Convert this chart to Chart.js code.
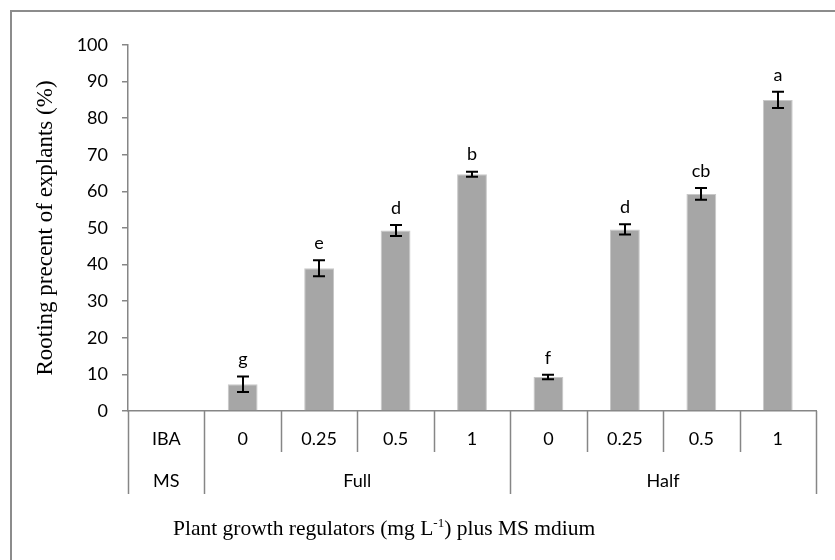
<!DOCTYPE html>
<html>
<head>
<meta charset="utf-8">
<script src="https://cdn.jsdelivr.net/npm/chart.js@4"></script>
<style>
  html, body { margin: 0; padding: 0; background: #fff; }
  canvas { display: block; }
</style>
</head>
<body>
<canvas id="c" width="835" height="560"></canvas>
<script>
// IBA concentrations (mg/L); the first column carries the row headers
const categories = ['IBA', '0', '0.25', '0.5', '1', '0', '0.25', '0.5', '1'];
// MS medium strength groups and how many columns each spans
const mediumGroups = ['MS', 'Full', 'Half'];
const mediumSpans = [1, 4, 4];
// Rooting percentage of explants and its standard error
const rooting = [null, 7.3, 39.0, 49.3, 64.7, 9.3, 49.6, 59.3, 85.0];
const rootingErr = [null, 2.1, 2.2, 1.5, 0.7, 0.6, 1.4, 1.6, 2.2];
// Mean separation letters
const letters = ['', 'g', 'e', 'd', 'b', 'f', 'd', 'cb', 'a'];
const yMin = 0, yMax = 100, yStep = 10;

const AXIS_GRAY = '#868686';
const TICK_FONT = { family: 'Lato', size: 18 };
const SERIF = '"Liberation Serif", "Times New Roman", serif';

// Frame lines, error bars, letters, two-level category table and x title
const decorations = {
  id: 'decorations',
  beforeDraw(chart) {
    const ctx = chart.ctx;
    ctx.save();
    ctx.fillStyle = '#fff';
    ctx.fillRect(0, 0, chart.width, chart.height);
    ctx.strokeStyle = '#8c8c8c';
    ctx.lineWidth = 2;
    ctx.beginPath();
    ctx.moveTo(11, chart.height);
    ctx.lineTo(11, 11);
    ctx.lineTo(chart.width, 11);
    ctx.stroke();
    ctx.restore();
  },
  afterDatasetsDraw(chart) {
    const ctx = chart.ctx;
    const y = chart.scales.y;
    const meta = chart.getDatasetMeta(0);
    ctx.save();
    ctx.strokeStyle = '#000';
    ctx.lineWidth = 2;
    ctx.fillStyle = '#000';
    ctx.font = '18px Lato';
    ctx.textAlign = 'center';
    ctx.textBaseline = 'middle';
    meta.data.forEach((bar, i) => {
      if (rooting[i] == null) return;
      const hi = y.getPixelForValue(rooting[i] + rootingErr[i]);
      const lo = y.getPixelForValue(rooting[i] - rootingErr[i]);
      const x = Math.round(bar.x);
      const cap = 6;
      ctx.beginPath();
      ctx.moveTo(x, hi); ctx.lineTo(x, lo);
      ctx.moveTo(x - cap, hi); ctx.lineTo(x + cap, hi);
      ctx.moveTo(x - cap, lo); ctx.lineTo(x + cap, lo);
      ctx.stroke();
      ctx.fillText(letters[i], x, hi - 17);
    });
    ctx.restore();
  },
  afterDraw(chart) {
    const ctx = chart.ctx;
    const x = chart.scales.x;
    const base = chart.chartArea.bottom;
    const row1 = base + 41, row2 = base + 83;
    const colW = (x.right - x.left) / categories.length;
    const edge = i => x.left + i * colW;

    ctx.save();
    ctx.strokeStyle = AXIS_GRAY;
    ctx.lineWidth = 1.5;
    // full-height dividers at group edges
    const groupEdges = [0];
    mediumSpans.reduce((acc, s) => { groupEdges.push(acc + s); return acc + s; }, 0);
    ctx.beginPath();
    for (let i = 0; i <= categories.length; i++) {
      const px = Math.round(edge(i)) + 0.5;
      ctx.moveTo(px, base);
      ctx.lineTo(px, groupEdges.includes(i) ? row2 : row1);
    }
    ctx.stroke();

    // medium strength row
    ctx.fillStyle = '#000';
    ctx.font = '18px Lato';
    ctx.textAlign = 'center';
    ctx.textBaseline = 'middle';
    let start = 0;
    mediumGroups.forEach((g, k) => {
      const mid = (edge(start) + edge(start + mediumSpans[k])) / 2;
      ctx.fillText(g, mid, base + 70);
      start += mediumSpans[k];
    });

    // x axis title with superscript unit
    ctx.textAlign = 'left';
    ctx.textBaseline = 'alphabetic';
    let tx = 173;
    const ty = 535;
    const parts = [
      ['Plant growth regulators (mg L', 21.5, 0],
      ['-1', 13, -8],
      [') plus MS mdium', 21.5, 0]
    ];
    parts.forEach(([t, size, dy]) => {
      ctx.font = size + 'px ' + SERIF;
      ctx.fillText(t, tx, ty + dy);
      tx += ctx.measureText(t).width;
    });
    ctx.restore();
  }
};

new Chart(document.getElementById('c'), {
  type: 'bar',
  data: {
    labels: categories,
    datasets: [{
      data: rooting,
      backgroundColor: '#a6a6a6',
      borderColor: '#c8c8c8',
      borderWidth: { left: 1, right: 1, top: 1, bottom: 0 },
      categoryPercentage: 1,
      barPercentage: 0.39
    }]
  },
  options: {
    responsive: false,
    animation: false,
    layout: { padding: { top: 45, right: 19, left: 0, bottom: 0 } },
    plugins: { legend: { display: false }, tooltip: { enabled: false } },
    scales: {
      x: {
        grid: { display: false },
        border: { display: true, color: AXIS_GRAY, width: 1.5 },
        ticks: { font: TICK_FONT, color: '#000', padding: 9, autoSkip: false, maxRotation: 0 },
        afterFit(scale) { scale.height = 149; }
      },
      y: {
        min: yMin,
        max: yMax,
        grid: { drawOnChartArea: false, drawTicks: true, tickLength: 6, color: AXIS_GRAY, lineWidth: 1.5 },
        border: { display: true, color: AXIS_GRAY, width: 1.5 },
        ticks: { stepSize: yStep, font: TICK_FONT, color: '#000', padding: 14 },
        title: {
          display: true,
          text: 'Rooting precent of explants (%)',
          font: { family: SERIF, size: 23 },
          color: '#000',
          padding: { top: 32, bottom: 0 }
        },
        afterFit(scale) { scale.width = 128; }
      }
    }
  },
  plugins: [decorations]
});
</script>
</body>
</html>
